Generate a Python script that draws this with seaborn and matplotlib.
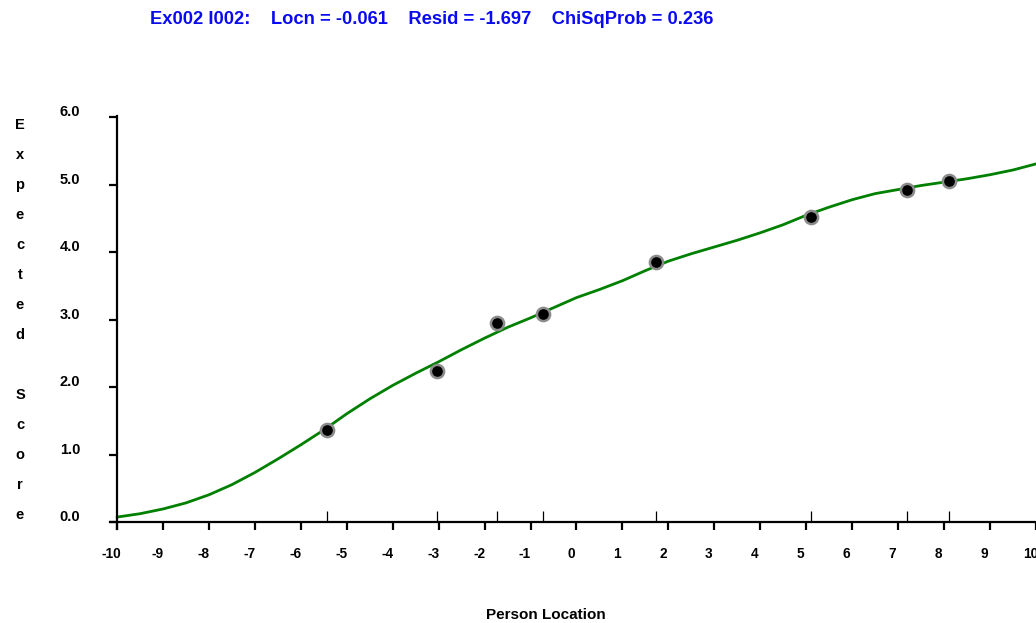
import matplotlib
matplotlib.use("Agg")
import matplotlib.pyplot as plt
from matplotlib.transforms import ScaledTranslation
import pandas as pd
import seaborn as sns

# Expected-score curve for the item across person locations
location = [-10, -9.5, -9, -8.5, -8, -7.5, -7, -6.5, -6, -5.5, -5, -4.5, -4, -3.5,
            -3, -2.5, -2, -1.5, -1, -0.5, 0, 0.5, 1, 1.5, 2, 2.5, 3, 3.5, 4, 4.5,
            5, 5.5, 6, 6.5, 7, 7.5, 8, 8.5, 9, 9.5, 10]
expected = [0.08, 0.13, 0.20, 0.29, 0.41, 0.56, 0.74, 0.94, 1.15, 1.37, 1.61, 1.83,
            2.03, 2.21, 2.38, 2.56, 2.73, 2.89, 3.03, 3.18, 3.33, 3.45, 3.58, 3.73,
            3.87, 3.98, 4.08, 4.18, 4.29, 4.41, 4.55, 4.67, 4.78, 4.87, 4.93, 4.99,
            5.04, 5.09, 5.15, 5.22, 5.31]

# Observed class-interval means
obs_location = [-5.44, -3.04, -1.74, -0.72, 1.73, 5.10, 7.20, 8.10]
obs_score = [1.37, 2.25, 2.96, 3.08, 3.85, 4.52, 4.93, 5.05]

x_ticks = list(range(-10, 11))
y_ticks = [0, 1, 2, 3, 4, 5, 6]
title_text = "Ex002 I002:    Locn = -0.061    Resid = -1.697    ChiSqProb = 0.236"
y_label = "Expected Score"
x_label = "Person Location"

curve = pd.DataFrame({"location": location, "expected": expected})
obs = pd.DataFrame({"location": obs_location, "score": obs_score})

sns.set_theme(style="white")
plt.rcParams["font.family"] = ["Liberation Sans", "DejaVu Sans"]
plt.rcParams["font.weight"] = "bold"

W, H = 1036, 623
fig = plt.figure(figsize=(W / 100, H / 100), dpi=100)
fig.patch.set_facecolor("white")

left_px, right_px = 110.1, 1036
top_px, bottom_px = 115.95, 529.25
ax = fig.add_axes([left_px / W, (H - bottom_px) / H,
                   (right_px - left_px) / W, (bottom_px - top_px) / H])
ax.set_facecolor("white")

sns.lineplot(data=curve, x="location", y="expected", ax=ax,
             color="#008000", linewidth=2.0, zorder=2)

# small upward ticks marking each class interval location
ax.vlines(obs_location, 0, 0.17, color="black", linewidth=0.9, zorder=1)

sns.scatterplot(data=obs, x="location", y="score", ax=ax, color="black",
                s=90, edgecolor="#8c8c8c", linewidth=1.8, zorder=3)

ax.set_xlim(-10.15, 10.0)
ax.set_ylim(-0.1, 6.02)
ax.spines["left"].set_position(("data", -10))
ax.spines["bottom"].set_position(("data", 0))
for side in ("top", "right"):
    ax.spines[side].set_visible(False)
for side in ("left", "bottom"):
    ax.spines[side].set_color("black")
    ax.spines[side].set_linewidth(1.6)
ax.spines["left"].set_bounds(-0.1, 6.02)

ax.set_xticks(x_ticks)
ax.set_xticklabels([str(t) for t in x_ticks])
ax.set_yticks(y_ticks)
ax.set_yticklabels([f"{t:.1f}" for t in y_ticks])
ax.tick_params(axis="x", direction="out", length=6, width=1.6, color="black",
               pad=11.5, labelsize=9.8, labelcolor="black", bottom=True)
ax.tick_params(axis="y", direction="out", length=5.5, width=1.6, color="black",
               pad=21, labelsize=10.5, labelcolor="black", left=True)
for lab in ax.get_xticklabels():
    lab.set_fontweight("bold")
    lab.set_transform(lab.get_transform() + ScaledTranslation(-0.055, 0, fig.dpi_scale_trans))
for lab in ax.get_yticklabels():
    lab.set_fontweight("bold")
    lab.set_transform(lab.get_transform() + ScaledTranslation(0, 0.065, fig.dpi_scale_trans))

ax.set_xlabel("")
ax.set_ylabel("")
ax.grid(False)

# title line
fig.text(150 / W, 1 - 20 / H, title_text, color="#0a0af0", fontsize=13.2,
         fontweight="bold", ha="left", va="center")

# vertical stacked axis title
y_pos = 125
for ch in y_label:
    if ch != " ":
        fig.text(20 / W, 1 - y_pos / H, ch, fontsize=10.5, fontweight="bold",
                 ha="center", va="center", color="black")
    y_pos += 30

fig.text(546 / W, 1 - 615 / H, x_label, fontsize=11, fontweight="bold",
         ha="center", va="center", color="black")

fig.savefig("out.png", dpi=100, facecolor="white")
